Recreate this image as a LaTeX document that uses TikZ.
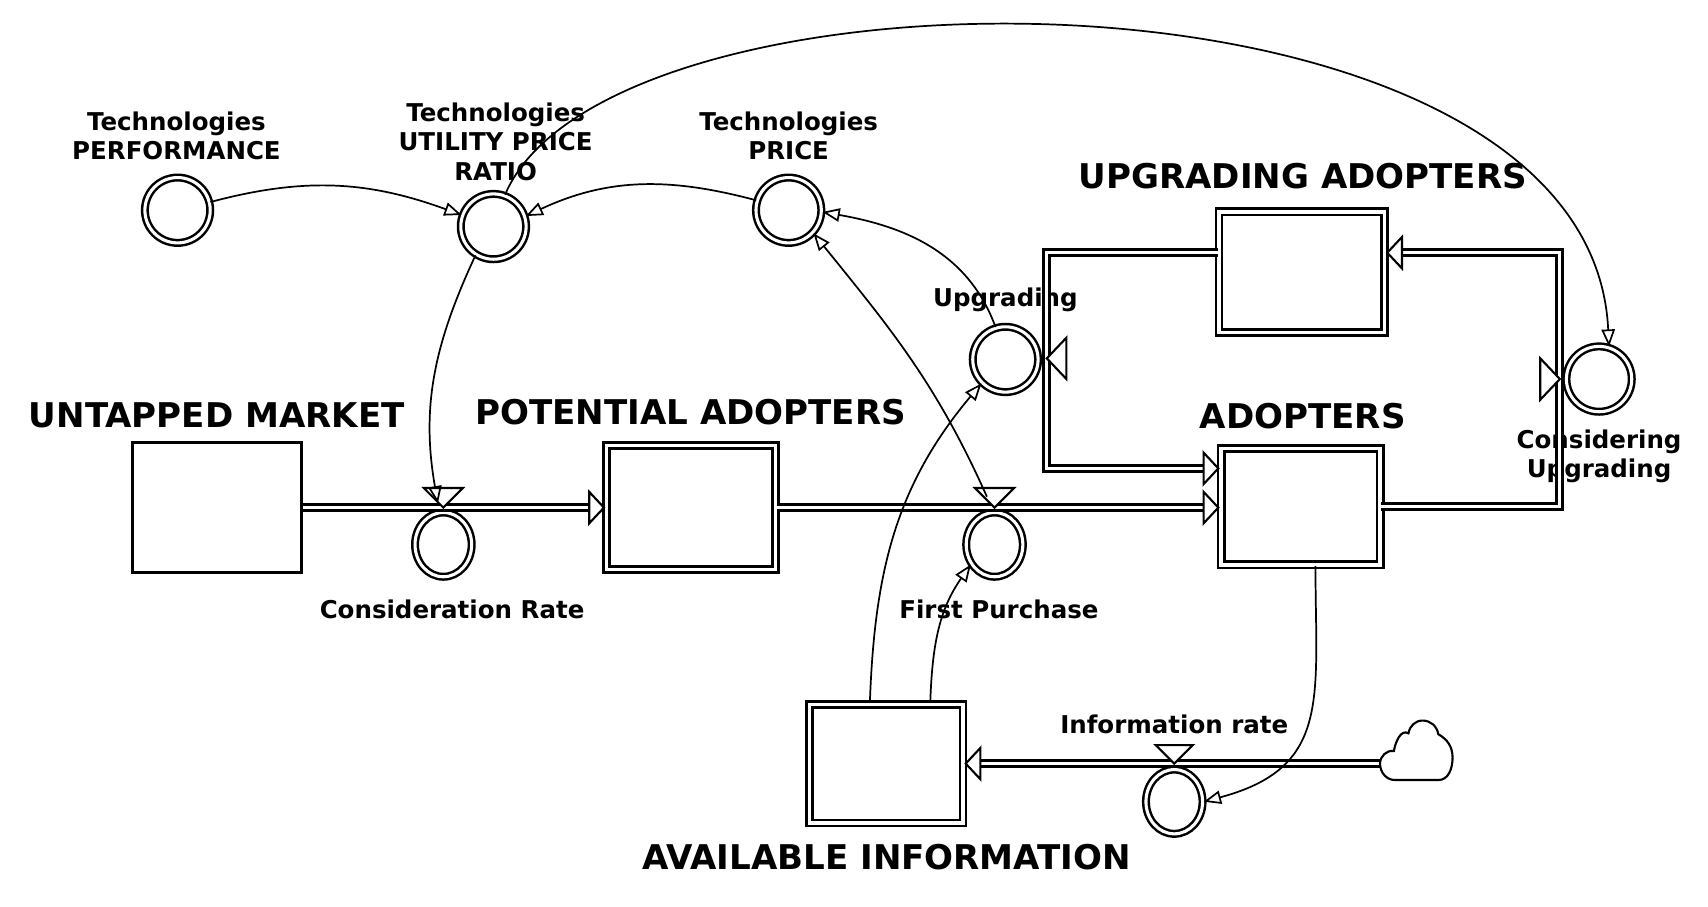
\documentclass[tikz,border=0pt]{standalone}
\usepackage{fontspec}
\setmainfont{DejaVu Sans}
\usetikzlibrary{calc,shapes,positioning}
\usetikzlibrary{arrows.meta}
\tikzset{>={Triangle[open,length=9pt,width=7pt]}}

\begin{document}
\begin{tikzpicture}[x=0.02cm,y=0.02cm]
      \tikzstyle{snode} = [draw, double, line width=1.4pt, double distance=1.8pt, rectangle, inner sep=0pt]
      \tikzstyle{anode} = [draw, double, line width=1.3pt, double distance=1.6pt, circle, inner sep=0pt, minimum size=1.2cm]
      \tikzstyle{vnode} = [draw, double, line width=1.3pt, double distance=1.6pt, ellipse, inner sep=0pt, minimum width=1.04cm, minimum height=1.18cm]
      \tikzstyle{tnode} = [font=\bfseries\fontsize{17.8}{21}\selectfont, inner sep=0pt]
      \tikzstyle{lnode} = [font=\bfseries\fontsize{12.8}{15.3}\selectfont, align=center, inner sep=0pt]
      \tikzstyle{pipe} = [draw, double, line width=1.6pt, double distance=1.5pt, line join=miter, -{Triangle[open,length=9pt,width=19pt,line width=1.1pt 0 0]}]
      \tikzstyle{link} = [line width=0.9pt, ->]
      \tikzstyle{valve} = [line width=1.1pt, fill=white, line join=miter]

      \useasboundingbox (0,0) rectangle (1568,832);

      \node[tnode] (tum) at (199,451) {UNTAPPED MARKET};
      \node[tnode] (tpa) at (634,454) {POTENTIAL ADOPTERS};
      \node[tnode] (tad) at (1196,450) {ADOPTERS};
      \node[tnode] (tua) at (1196,670) {UPGRADING ADOPTERS};
      \node[tnode] (tai) at (814,45) {AVAILABLE INFORMATION};

      \node[lnode] (lperf) at (162,707) {Technologies\\PERFORMANCE};
      \node[lnode] (lupr) at (455,702) {Technologies\\UTILITY PRICE\\RATIO};
      \node[lnode] (lprice) at (724,707) {Technologies\\PRICE};
      \node[lnode] (lupg) at (923,557) {Upgrading};
      \node[lnode] (lcons) at (1468,413) {Considering\\Upgrading};
      \node[lnode] (lcrate) at (415,273) {Consideration Rate};
      \node[lnode] (lfp) at (917,273) {First Purchase};
      \node[lnode] (lir) at (1078,167) {Information rate};

      \node[draw, line width=1.6pt, rectangle, inner sep=0pt, minimum width=3.1cm, minimum height=2.38cm] (untapped) at (199,366) {};
      \node[snode, minimum width=3.1cm, minimum height=2.28cm] (potential) at (634.5,366) {};
      \node[snode, minimum width=2.92cm, minimum height=2.14cm] (adopt) at (1194,367) {};
      \node[snode, minimum width=3.04cm, minimum height=2.22cm] (upgr) at (1195,582) {};
      \node[snode, minimum width=2.82cm, minimum height=2.18cm] (avail) at (813.5,131) {};

      \node[anode] (perf) at (163,639) {};
      \node[anode] (upr) at (453,624) {};
      \node[anode] (price) at (724,639) {};
      \node[anode] (upg) at (923,502) {};
      \node[anode] (cons) at (1468,484) {};
      \node[vnode] (crate) at (407,332) {};
      \node[vnode] (fpur) at (913,332) {};
      \node[vnode] (irate) at (1078,96) {};

      \coordinate (crv) at (407,366);
      \coordinate (fpv) at (913,366);
      \coordinate (irv) at (1078,131);
      \coordinate (upv) at (961,503);
      \coordinate (cuv) at (1432,484);
      \coordinate (uL) at (961,600);
      \coordinate (dL) at (961,402);
      \coordinate (uR) at (1432,600);
      \coordinate (dR) at (1432,367);
      \coordinate (cloud) at (1266.9,131);
      \coordinate (crin) at (402,370);
      \coordinate (fpin) at (906,376);

      \draw[pipe] (untapped.east) -- (potential.west);
      \draw[pipe] (potential.east) -- (potential.east -| adopt.west);
      \draw[pipe] (uL -| upgr.west) -- (uL) -- (dL) -- (dL -| adopt.west);
      \draw[pipe] (adopt.east) -- (dR) -- (uR) -- (uR -| upgr.east);
      \draw[pipe] (cloud) -- (cloud -| avail.east);

      \draw[valve] (crv) -- ++(-18,18) -- ++(36,0) -- cycle;
      \draw[valve] (fpv) -- ++(-18,18) -- ++(36,0) -- cycle;
      \draw[valve] (irv) -- ++(-17,17) -- ++(34,0) -- cycle;
      \draw[valve] (upv) -- ++(18,19) -- ++(0,-38) -- cycle;
      \draw[valve] (cuv) -- ++(-18,19) -- ++(0,-38) -- cycle;

      \draw[line width=1.1pt] (1280.6,115.9) -- (1320.4,115.9) to[out=0,in=-90] (1333.5,136.5)
        to[out=90,in=-30] (1320.4,158) to[out=100,in=0] (1306,170.5) to[out=180,in=80] (1293,158.8)
        to[out=150,in=80] (1279.6,142.5) to[out=170,in=90] (cloud) to[out=-90,in=180] (1280.6,115.9);

      \draw[link] (perf.14) to[out=15,in=160] (upr.160);
      \draw[link] (price.163) to[out=165,in=25] (upr.18);
      \draw[link] (upr.238) to[out=245,in=100] (crin);
      \draw[link] (upr.70) .. controls (560,880) and (1460,880) .. (cons.73);
      \draw[link] (upg.107) to[out=110,in=-10] (price.-3);
      \draw[link] (fpin) to[out=114,in=-51] (price.-43);
      \draw[link] (avail.105) to[out=88,in=-130] (upg.225);
      \draw[link] (avail.54) to[out=88,in=-125] (fpur.220);
      \draw[link] (adopt.-76) to[out=-90,in=15,looseness=1.3] (irate.east);
\end{tikzpicture}
\end{document}
